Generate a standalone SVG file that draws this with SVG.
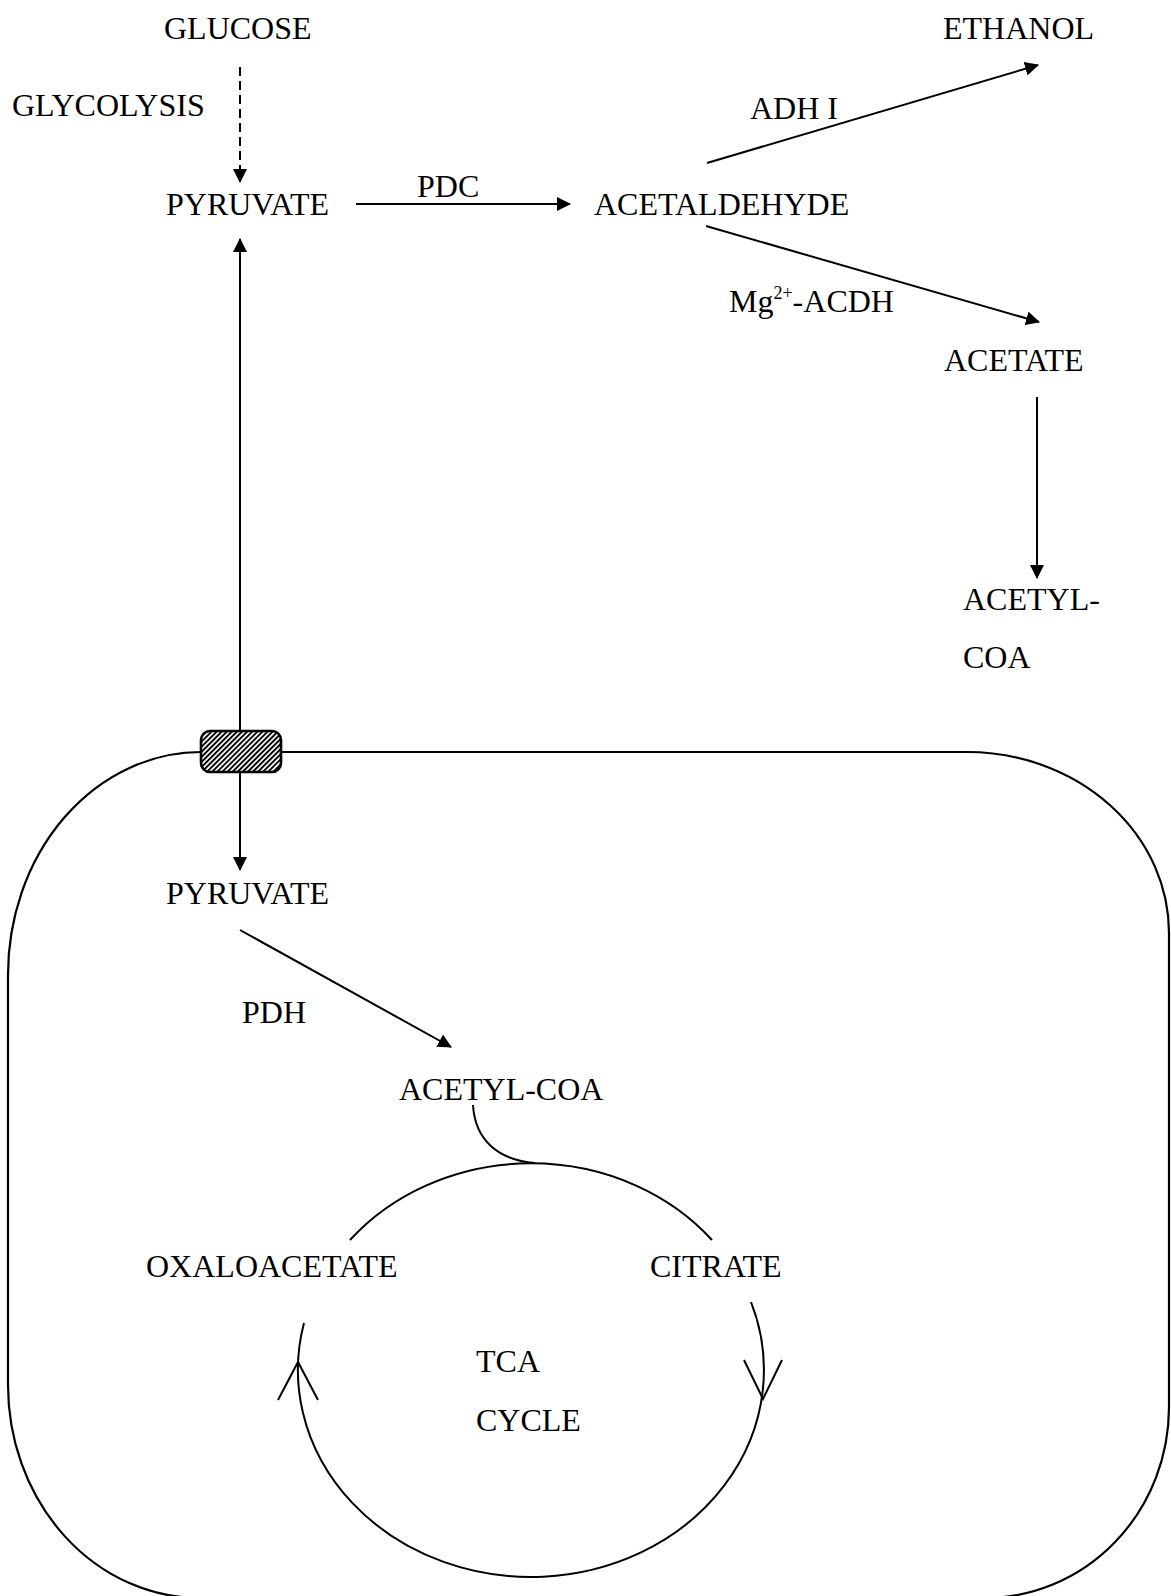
<svg xmlns="http://www.w3.org/2000/svg" width="1171" height="1596" viewBox="0 0 1171 1596">
  <style>
    text { font-family: "Liberation Serif", "Times New Roman", serif; font-size: 32px; fill: #000; }
    .ln { fill: none; stroke: #000; stroke-width: 2; }
    .arr { marker-end: url(#head); }
    .membrane { fill: none; stroke: #000; stroke-width: 2.2; }
  </style>
  <defs>
    <marker id="head" markerUnits="userSpaceOnUse" markerWidth="16" markerHeight="14" refX="13" refY="7" orient="auto">
      <path d="M0,0 L14,7 L0,14 Z" fill="#000"/>
    </marker>
    <marker id="headStart" markerUnits="userSpaceOnUse" markerWidth="16" markerHeight="14" refX="13" refY="7" orient="auto-start-reverse">
      <path d="M0,0 L14,7 L0,14 Z" fill="#000"/>
    </marker>
    <pattern id="hatch" width="3.6" height="3.6" patternUnits="userSpaceOnUse" patternTransform="rotate(45)">
      <rect width="3.6" height="3.6" fill="#fff"/>
      <rect width="1.9" height="3.6" fill="#000"/>
    </pattern>
  </defs>

  <!-- mitochondrial membrane -->
  <g id="membrane">
    <path class="membrane" d="M201,752 A193,223 0 0 0 8,975 L8,1385 A192,213 0 0 0 200,1598 L985,1598 A184,191 0 0 0 1169,1407 L1169,933 A202,181 0 0 0 967,752 L281,752"/>
  </g>

  <!-- reaction connectors -->
  <g id="connectors">
    <line class="ln" x1="240" y1="67" x2="240" y2="182" stroke-dasharray="9 5" marker-end="url(#head)"/>
    <line class="ln arr" x1="356" y1="204" x2="570" y2="204"/>
    <line class="ln arr" x1="707" y1="163" x2="1038" y2="65"/>
    <line class="ln arr" x1="706" y1="226" x2="1039" y2="322"/>
    <line class="ln arr" x1="1037" y1="397" x2="1037" y2="578"/>
    <line class="ln" x1="240" y1="239" x2="240" y2="752" marker-start="url(#headStart)"/>
    <line class="ln arr" x1="240" y1="772" x2="240" y2="870"/>
    <line class="ln arr" x1="240" y1="930" x2="451" y2="1047"/>
    <path class="ln" d="M473,1105 C475,1140 498,1160 535,1163"/>
    <!-- TCA cycle -->
    <path class="ln" d="M350,1240 A233,207 0 0 1 712,1240"/>
    <path class="ln" d="M751,1302 A233,207 0 1 1 304,1323"/>
    <path class="ln" d="M744,1360 L763,1399 L782,1360"/>
    <path class="ln" d="M278,1400 L298,1362 L318,1400"/>
  </g>

  <!-- pyruvate carrier in the membrane -->
  <g id="carrier">
    <rect x="201" y="731" width="80" height="41" rx="9" ry="9" fill="url(#hatch)" stroke="#000" stroke-width="2.6"/>
  </g>

  <g id="glucose"><text x="164" y="39">GLUCOSE</text></g>
  <g id="glycolysis"><text x="12" y="116">GLYCOLYSIS</text></g>
  <g id="pyruvate-cyto"><text x="166" y="215">PYRUVATE</text></g>
  <g id="pdc"><text x="417" y="197">PDC</text></g>
  <g id="acetaldehyde"><text x="594" y="215">ACETALDEHYDE</text></g>
  <g id="ethanol"><text x="943" y="39">ETHANOL</text></g>
  <g id="adh"><text x="750" y="119">ADH I</text></g>
  <g id="acdh"><text x="729" y="312">Mg<tspan dy="-13" font-size="18">2+</tspan><tspan dy="13">-ACDH</tspan></text></g>
  <g id="acetate"><text x="944" y="371">ACETATE</text></g>
  <g id="acetyl-coa-cyto"><text x="963" y="610">ACETYL-</text><text x="963" y="668">COA</text></g>
  <g id="pyruvate-mito"><text x="166" y="904">PYRUVATE</text></g>
  <g id="pdh"><text x="242" y="1023">PDH</text></g>
  <g id="acetyl-coa-mito"><text x="399" y="1100">ACETYL-COA</text></g>
  <g id="oxaloacetate"><text x="146" y="1277">OXALOACETATE</text></g>
  <g id="citrate"><text x="650" y="1277">CITRATE</text></g>
  <g id="tca"><text x="476" y="1372">TCA</text><text x="476" y="1431">CYCLE</text></g>
</svg>
